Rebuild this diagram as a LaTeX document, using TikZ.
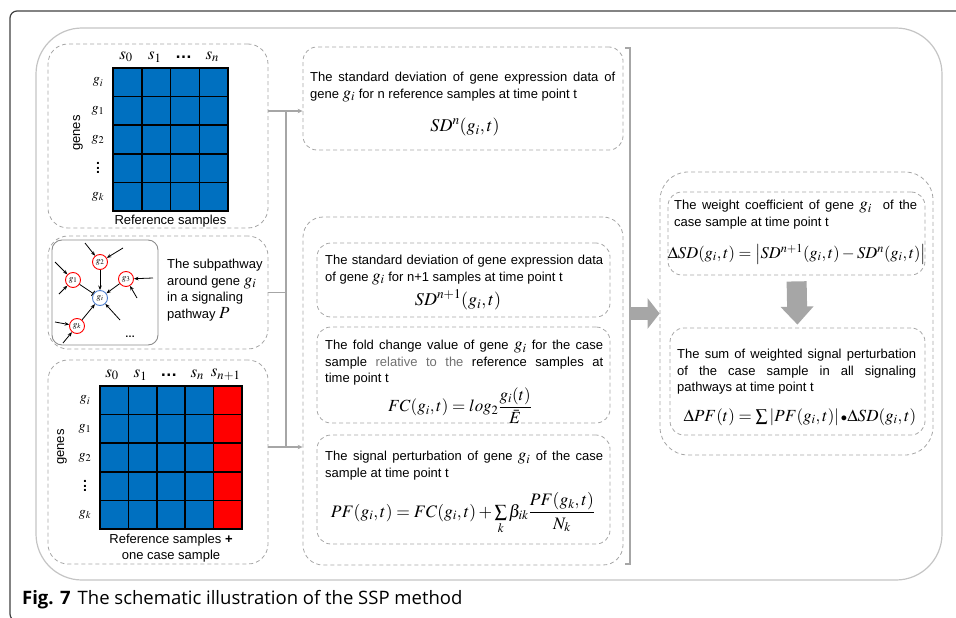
\documentclass[tikz,border=0pt]{standalone}
\usepackage{amsmath}
\usepackage[no-math]{fontspec}
\usepackage{mathptmx}
\setmainfont{Liberation Sans}
\newfontfamily\capfont{Open Sans}
\usepackage{xcolor}
\usetikzlibrary{positioning, arrows.meta, calc}
\definecolor{cellblue}{HTML}{0070C0}
\definecolor{cellred}{HTML}{FF0000}
\definecolor{linegray}{HTML}{A6A6A6}
\definecolor{framegray}{HTML}{C4C4C4}
\definecolor{nodeblue}{HTML}{4F7FCF}
\definecolor{textgray}{HTML}{707070}
\newcommand{\gn}[1]{{\fontsize{17}{16}\selectfont$g_{#1}$}} % gene symbol inside running text
\newcommand{\txt}{\fontsize{13}{16.5}\selectfont}
\newcommand{\vdts}{\vbox{\baselineskip=4.5pt\lineskiplimit=0pt\hbox{.}\hbox{.}\hbox{.}}} % short vertical dots
\tikzset{
  dashbox/.style={draw=linegray, dash pattern=on 4pt off 3pt, line width=0.8pt, rounded corners=14pt, inner sep=0pt},
  boxtext/.style={anchor=north west, inner sep=0pt, align=justify, font=\txt},
  formula/.style={inner sep=0pt, font=\fontsize{18}{20}\selectfont},
  feed/.style={draw=linegray, line width=1.5pt},
  feedarrow/.style={feed, -{Stealth[length=5pt, width=4.5pt]}},
  fatarrow/.style={draw=linegray, line width=13pt, -{Triangle[length=12pt, width=30pt]}},
  cell/.style={line width=1.5pt, line cap=rect},
  gene/.style={circle, draw=cellred, line width=0.9pt, minimum size=15pt, inner sep=0pt, fill=white, font=\fontsize{9}{9}\selectfont},
  link/.style={-{Stealth[length=4.5pt, width=3.5pt]}, line width=0.8pt},
  label/.style={inner sep=0pt, font=\fontsize{17}{17}\selectfont},
  rowlabel/.style={inner sep=0pt, font=\fontsize{14}{14}\selectfont},
}
\begin{document}
\begin{tikzpicture}[x=1pt, y=-1pt]
\useasboundingbox (0,0) rectangle (956,618);
% page frame and panel
\draw[line width=1.2pt, draw=black!75, rounded corners=7pt] (960,11) -- (10,11) -- (10,621) -- (40,621);
\draw[framegray, line width=1.2pt, rounded corners=46pt] (36,28) rectangle (942,580);
\node[anchor=base west, inner sep=0pt, font=\capfont\fontsize{18.5}{20}\selectfont] (caption) at (22,604) {\textbf{Fig. 7}\hspace{7pt}The schematic illustration of the SSP method};

%%% left column
\node[dashbox, rounded corners=20pt, minimum width=220pt, minimum height=184pt] (refbox) at (158,136) {};
\node[dashbox, rounded corners=20pt, minimum width=220pt, minimum height=113pt] (pathbox) at (158,292.5) {};
\node[dashbox, rounded corners=20pt, minimum width=220pt, minimum height=204pt] (casebox) at (158,462) {};

% reference matrix
\fill[cellblue] (113,68) rectangle (228,211);
\foreach \c in {0,...,4}
 {\draw[cell] ({113+28.75*\c},68) -- ++(0,143);}
\foreach \r in {0,...,5}
 {\draw[cell] (113,{68+28.6*\r}) -- ++(115,0);}
\foreach \lab [count=\c from 0] in {$s_0$,$s_1$,{\bfseries\ldots},$s_n$}
 {\node[label] (refcol\c) at ({126+28.75*\c},57) {\lab};}
\foreach \lab [count=\r from 0] in {$g_i$,$g_1$,$g_2$,{\bfseries\vdts},$g_k$}
 {\node[rowlabel] (refrow\r) at (98,{82.3+28.6*\r}) {\lab};}
\node[rotate=90, font=\txt] (refgenes) at (78,133) {genes};
\node[font=\txt] (reflabel) at (170.5,221) {Reference samples};

% subpathway around g_i
\node[draw=black!45, line width=0.9pt, rounded corners=10pt, minimum width=106pt, minimum height=105pt] (pathframe) at (105,292.5) {};
\node[gene] (g2) at (100,262) {$g_2$};
\node[gene] (g1) at (73,280) {$g_1$};
\node[gene] (g3) at (126,279) {$g_3$};
\node[gene, draw=nodeblue] (gi) at (100,298) {$g_i$};
\node[gene] (gk) at (77,326) {$g_k$};
\coordinate (in2a) at (85,243);
\coordinate (in2b) at (123,248);
\coordinate (in1a) at (55,262);
\coordinate (in1b) at (59,294);
\coordinate (in3a) at (153,278);
\coordinate (in3b) at (137,298);
\coordinate (inia) at (120,320);
\coordinate (inka) at (55,322);
\coordinate (inkb) at (63,343);
\foreach \a/\b in {in2a/g2,in2b/g2,in1a/g1,in1b/g1,in3a/g3,in3b/g3,inia/gi,inka/gk,inkb/gk,g2/gi,g3/gi,gk/gi}
 {\draw[link] (\a) -- (\b);}
\draw[line width=0.8pt, -{Bar[width=6pt]}] (g1) -- (gi); % inhibition
\node[inner sep=0pt] (pathdots) at (130,337) {\bfseries\ldots};
\node[anchor=north west, align=left, inner sep=0pt, font=\txt] (pathtext) at (167,259) {The subpathway\\around gene \gn{i}\\in a signaling\\pathway {\fontsize{17}{16}\selectfont$P$}};

% reference + case matrix
\fill[cellblue] (100,386) rectangle (213.6,529);
\fill[cellred] (213.6,386) rectangle (242,529);
\foreach \c in {0,...,5}
 {\draw[cell] ({100+28.4*\c},386) -- ++(0,143);}
\foreach \r in {0,...,5}
 {\draw[cell] (100,{386+28.6*\r}) -- ++(142,0);}
\foreach \lab [count=\c from 0] in {$s_0$,$s_1$,{\bfseries\ldots},$s_n$,$s_{n+1}$}
 {\node[label] (casecol\c) at ({112+28.4*\c},375) {\lab};}
\foreach \lab [count=\r from 0] in {$g_i$,$g_1$,$g_2$,{\bfseries\vdts},$g_k$}
 {\node[rowlabel] (caserow\r) at (85,{400.3+28.6*\r}) {\lab};}
\node[rotate=90, font=\txt] (casegenes) at (62,447) {genes};
\node[font=\txt, align=center] (caselabel) at (171,548) {Reference samples \textbf{+}\\one case sample};

% feeding lines
\coordinate (bustop) at (286,111);
\coordinate (busbot) at (286,447);

%%% middle column
\node[dashbox, minimum width=320pt, minimum height=103pt] (sdref) at (463,98.5) {};
\node[boxtext, text width=305pt] (sdreftext) at (310,72) {The standard deviation of gene expression data of\linebreak gene \gn{i} for n reference samples at time point t};
\node[formula] (sdrefeq) at (465,127) {$SD^{n}(g_i,t)$};

\node[dashbox, rounded corners=20pt, minimum width=320pt, minimum height=348pt] (pertbox) at (463,391) {};
\node[dashbox, minimum width=293pt, minimum height=74pt] (sdcase) at (463.5,280) {};
\node[boxtext, text width=278pt] (sdcasetext) at (325,255) {The standard deviation of gene expression data\linebreak of gene \gn{i} for n+1 samples at time point t};
\node[formula] (sdcaseeq) at (458,300) {$SD^{n+1}(g_i,t)$};

\node[dashbox, minimum width=293pt, minimum height=96pt] (fcbox) at (463.5,375) {};
\node[boxtext, text width=278pt] (fctext) at (325,340) {The fold change value of gene \gn{i} for the case\linebreak sample {\color{textgray}relative to the} reference samples at\linebreak time point t};
\node[formula, font=\fontsize{17}{19}\selectfont] (fceq) at (460,405.5) {$FC(g_i,t)=log_2\dfrac{g_i(t)}{\bar{E}}$};

\node[dashbox, minimum width=293pt, minimum height=109pt] (pfbox) at (463.5,489.5) {};
\node[boxtext, text width=278pt] (pftext) at (325,451) {The signal perturbation of gene \gn{i} of the case\linebreak sample at time point t};
\node[formula, font=\fontsize{17.5}{19}\selectfont] (pfeq) at (463,513) {$PF(g_i,t)=FC(g_i,t)+\sum\limits_k\beta_{ik}\dfrac{PF(g_k,t)}{N_k}$};

\draw[draw=linegray, line width=1.5pt] (625,48) -- (630,48) -- (630,564) -- (625,564); % bracket
\coordinate (brk) at (630,313.5);

%%% right column
\node[dashbox, rounded corners=28pt, minimum width=273pt, minimum height=283pt] (rightbox) at (796.5,313.5) {};
\node[dashbox, minimum width=257pt, minimum height=83pt] (wbox) at (796.5,233.5) {};
\node[boxtext, text width=243pt] (wtext) at (674,200) {The weight coefficient of gene \gn{i}\ \ of the\linebreak case sample at time point t};
\node[formula, font=\fontsize{16.5}{18}\selectfont] (weq) at (797,254) {$\Delta SD(g_i,t)=\left|SD^{n+1}(g_i,t)-SD^{n}(g_i,t)\right|$};

\node[dashbox, minimum width=255pt, minimum height=107pt] (sumbox) at (797.5,381.5) {};
\node[boxtext, text width=239pt] (sumtext) at (677,349) {The sum of weighted signal perturbation\linebreak of the case sample in all signaling\linebreak pathways at time point t};
\node[formula, font=\fontsize{17}{19}\selectfont] (sumeq) at (800,417) {$\Delta PF(t)=\sum\left|PF(g_i,t)\right|\mathord{\scriptstyle\bullet}\Delta SD(g_i,t)$};

% connectors
\draw[feed] (refbox.east |- bustop) -- (bustop) -- (busbot);
\draw[feedarrow] (bustop) -- (sdref.west |- bustop);
\draw[feed] (pathbox.east) -- (pathbox.east -| bustop);
\draw[feedarrow] (casebox.east |- busbot) -- (pertbox.west |- busbot);
\draw[fatarrow] (brk) -- (rightbox.west);
\draw[fatarrow, line width=20pt, -{Triangle[length=18pt, width=32pt]}, shorten <=6pt, shorten >=3pt] (wbox.south) -- (sumbox.north);
\end{tikzpicture}
\end{document}
